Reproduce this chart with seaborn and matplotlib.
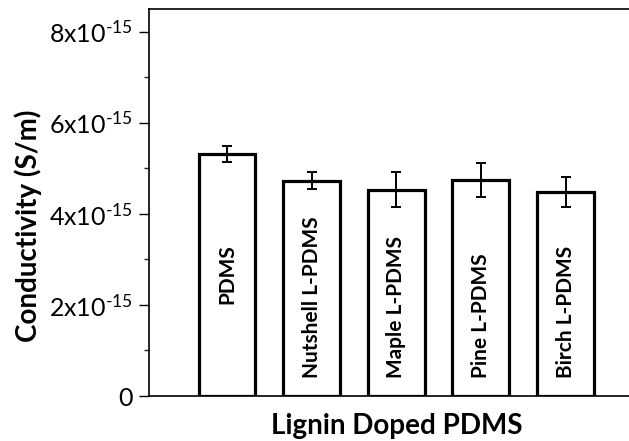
import matplotlib
matplotlib.use("Agg")
import matplotlib.pyplot as plt
import seaborn as sns
import pandas as pd
from matplotlib.ticker import MultipleLocator, FuncFormatter

categories = ["PDMS", "Nutshell L-PDMS", "Maple L-PDMS", "Pine L-PDMS", "Birch L-PDMS"]
conductivity = [5.32e-15, 4.73e-15, 4.53e-15, 4.74e-15, 4.48e-15]
errors = [0.18e-15, 0.18e-15, 0.38e-15, 0.38e-15, 0.33e-15]
ytick_values = [0, 2e-15, 4e-15, 6e-15, 8e-15]

sns.set_theme(style="ticks")
plt.rcParams['font.family'] = ['Lato', 'DejaVu Sans']
plt.rcParams['mathtext.fontset'] = 'custom'
plt.rcParams['mathtext.rm'] = 'Lato'
plt.rcParams['mathtext.it'] = 'Lato:italic'
plt.rcParams['mathtext.bf'] = 'Lato:bold'

df = pd.DataFrame({"Sample": categories, "Conductivity": conductivity})

fig = plt.figure(figsize=(6.29, 4.41), dpi=100)
ax = fig.add_axes([149/629, 45/441, 480/629, 387/441])

sns.barplot(data=df, x="Sample", y="Conductivity", order=categories,
            color="white", edgecolor="black", linewidth=2.3, width=0.67,
            errorbar=None, ax=ax, saturation=1)
ax.errorbar(range(len(categories)), conductivity, yerr=errors, fmt="none",
            ecolor="black", elinewidth=1.4, capsize=3.5, capthick=1.4, zorder=5)

ax.set_xlim(-0.92, 4.75)
ax.set_ylim(0, 8.5e-15)

def fmt(v, pos):
    if abs(v) < 1e-20:
        return "0"
    m = int(round(v / 1e-15))
    return "$\\mathregular{%dx10^{\u201015}}$" % m

ax.set_yticks(ytick_values)
ax.yaxis.set_major_formatter(FuncFormatter(fmt))
ax.yaxis.set_minor_locator(MultipleLocator(1e-15))
ax.tick_params(axis="y", which="major", direction="out", length=7, width=1.0,
               labelsize=18, pad=5, colors="black")
ax.tick_params(axis="y", which="minor", direction="out", length=3.5, width=1.0)
ax.set_xticks([])
ax.tick_params(axis="x", which="both", length=0)

for s in ["left", "bottom", "top"]:
    ax.spines[s].set_visible(True)
    ax.spines[s].set_linewidth(1.2)
    ax.spines[s].set_color("black")
ax.spines["right"].set_visible(False)

# labels inside bars
for i, name in enumerate(categories):
    if name == "PDMS":
        ax.text(i, 2.68e-15, name, rotation=90, ha="center", va="center",
                fontsize=15, fontweight="bold", color="black")
    else:
        ax.text(i, 0.4e-15, name, rotation=90, ha="center", va="bottom",
                fontsize=15, fontweight="bold", color="black")

ax.set_ylabel("Conductivity (S/m)", fontsize=20, fontweight="bold", color="black")
ax.yaxis.set_label_coords(-0.222, 0.44)
ax.set_xlabel("Lignin Doped PDMS", fontsize=20, fontweight="bold", color="black")
ax.xaxis.set_label_coords(0.517, -0.043)

fig.savefig("out.png", dpi=100, facecolor="white")
